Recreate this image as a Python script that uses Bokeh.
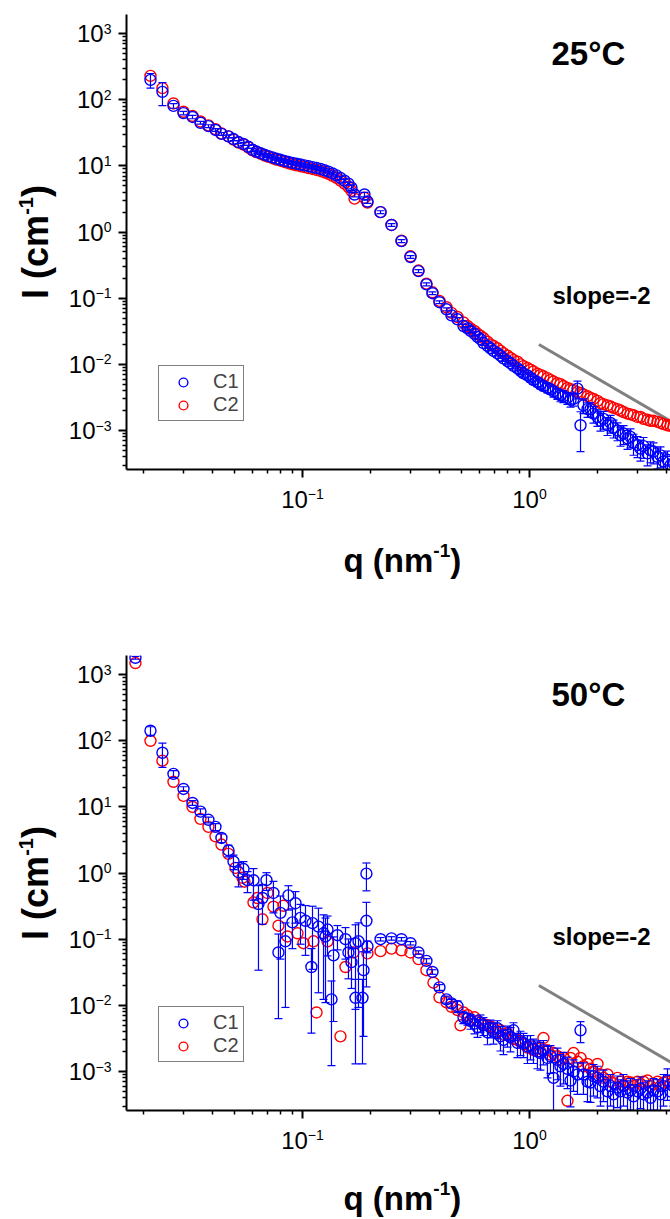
import math
from bokeh.plotting import figure
from bokeh.models import Range1d, FixedTicker, Label, Legend, LegendItem, CustomJSTickFormatter
from bokeh.layouts import column, row
from bokeh.core.properties import value
from bokeh.embed import file_html
from bokeh.resources import INLINE

# ---------------- data ----------------
# shared high-q grid (nm^-1)
q_high = [0.5332, 0.5497, 0.5725, 0.5902, 0.6084, 0.6271, 0.653, 0.6732, 0.694, 0.7227,
          0.745, 0.7679, 0.7999, 0.8246, 0.85, 0.8853, 0.9128, 0.941, 0.9799, 1.01,
          1.041, 1.084, 1.118, 1.152, 1.2, 1.237, 1.276, 1.328, 1.369, 1.412,
          1.47, 1.516, 1.563, 1.627, 1.678, 1.729, 1.801, 1.857, 1.914, 1.993,
          2.055, 2.118, 2.206, 2.275, 2.345, 2.442, 2.517, 2.595, 2.703, 2.786,
          2.872, 2.991, 3.083, 3.179, 3.31, 3.413, 3.518, 3.664, 3.777, 3.894,
          4.055, 4.18, 4.309, 4.487]

# 25 C panel
q25_low = [0.0214, 0.02416, 0.02702, 0.02991, 0.03277, 0.03553, 0.03853, 0.04137, 0.04396, 0.04721,
           0.04967, 0.05225, 0.05497, 0.05783,
           0.06022, 0.06271, 0.0653, 0.068, 0.07081, 0.07374, 0.07679, 0.07996, 0.08327, 0.08671,
           0.09029, 0.09403, 0.09799, 0.102, 0.1063, 0.1107, 0.1153, 0.12, 0.125, 0.1302,
           0.1356, 0.1412, 0.147, 0.1531, 0.1594,
           0.1644, 0.1695, 0.1875, 0.1933,
           0.2207, 0.2467, 0.273, 0.2991, 0.3243, 0.3516, 0.3737, 0.4013, 0.4309, 0.4533, 0.4818, 0.512]
c1_25 = [200, 132, 81, 63, 55, 45, 40, 35, 30.5, 28, 25.5, 23, 21.5, 19.5,
         17.5, 16.5, 15.6, 14.8, 14.1, 13.5, 12.9, 12.4, 11.9, 11.5, 11.1, 10.8, 10.5, 10.2, 9.9,
         9.6, 9.3, 9.0, 8.6, 8.2, 7.7, 7.2, 6.6, 6.0, 5.4,
         4.7, 3.7, 3.7, 2.9,
         2.0, 1.28, 0.73, 0.42, 0.257, 0.162, 0.119, 0.087, 0.068, 0.055, 0.048, 0.038,
         0.035, 0.032, 0.029, 0.026, 0.024, 0.021, 0.019, 0.0175, 0.016, 0.0147,
         0.0135, 0.0123, 0.0112, 0.0104, 0.0095, 0.0087, 0.008, 0.0073, 0.0068, 0.0063,
         0.0058, 0.0054, 0.005, 0.0047, 0.0044, 0.0042, 0.0039, 0.0036, 0.0034, 0.0033,
         0.0031, 0.0029, 0.003, 0.0043, 0.0012, 0.0024, 0.0021, 0.0021, 0.0018, 0.0016,
         0.0014, 0.0015, 0.0012, 0.0013, 0.0011, 0.001, 0.00085, 0.0009, 0.00076, 0.0008,
         0.00065, 0.0006, 0.00053, 0.00058, 0.00045, 0.0005, 0.00048, 0.0004, 0.00042, 0.00034,
         0.00036, 0.0003, 0.00032, 0.00028]
c2_25 = [230, 150, 88, 66, 57, 47, 41, 36, 31, 28, 25, 22.5, 21, 19,
         17.2, 16.2, 15.3, 14.4, 13.7, 13.1, 12.5, 12.0, 11.5, 11.0, 10.6, 10.2, 9.9, 9.6, 9.3,
         9.0, 8.7, 8.4, 8.0, 7.6, 7.1, 6.6, 6.0, 5.4, 4.8,
         4.2, 3.2, 3.3, 2.8,
         2.0, 1.28, 0.74, 0.43, 0.262, 0.166, 0.123, 0.091, 0.073, 0.06, 0.052, 0.043,
         0.038, 0.035, 0.032, 0.029, 0.027, 0.025, 0.022, 0.02, 0.019, 0.0175,
         0.016, 0.0148, 0.0135, 0.0125, 0.0117, 0.011, 0.01, 0.0094, 0.0088, 0.0083,
         0.0078, 0.0072, 0.0069, 0.0066, 0.0062, 0.0058, 0.0055, 0.0052, 0.005, 0.0047,
         0.0044, 0.0042, 0.0041, 0.0038, 0.0037, 0.0035, 0.0033, 0.0031, 0.003, 0.0028,
         0.0026, 0.0025, 0.0024, 0.0023, 0.0022, 0.0021, 0.002, 0.0019, 0.0018, 0.00175,
         0.0017, 0.0016, 0.0016, 0.0015, 0.00145, 0.0014, 0.0014, 0.00135, 0.0013, 0.00125,
         0.0012, 0.00118, 0.00115, 0.00112]
c1_25_err = [0.25, 0.38, 0.08, 0.06, 0.06, 0.05, 0.05, 0.05, 0.05, 0.05, 0.05, 0.05, 0.05, 0.05,
             0.05, 0.05, 0.05, 0.05, 0.05, 0.05, 0.05, 0.05, 0.05, 0.05, 0.05, 0.05, 0.05, 0.05, 0.05,
             0.05, 0.05, 0.05, 0.05, 0.05, 0.05, 0.05, 0.05, 0.05, 0.05,
             0.1, 0.08, 0.08, 0.06,
             0.05, 0.05, 0.05, 0.05, 0.05, 0.05, 0.05, 0.05, 0.05, 0.05, 0.06, 0.06,
             0.06, 0.06, 0.07, 0.07, 0.07, 0.08, 0.08, 0.08, 0.08, 0.09,
             0.09, 0.1, 0.1, 0.1, 0.1, 0.12, 0.12, 0.12, 0.12, 0.14,
             0.14, 0.15, 0.15, 0.15, 0.16, 0.16, 0.18, 0.18, 0.2, 0.2,
             0.2, 0.22, 0.22, 0.3, 0.6, 0.25, 0.25, 0.25, 0.28, 0.28,
             0.3, 0.3, 0.3, 0.3, 0.3, 0.3, 0.32, 0.32, 0.32, 0.32,
             0.35, 0.35, 0.35, 0.35, 0.35, 0.35, 0.35, 0.35, 0.35, 0.35,
             0.35, 0.35, 0.35, 0.35]

# 50 C panel
q50_c1_low = [0.01837, 0.0214, 0.02416, 0.02702, 0.02991, 0.03277, 0.03553, 0.03853, 0.04137, 0.04396,
              0.04721, 0.04967, 0.05225, 0.05497, 0.05725, 0.06083, 0.064, 0.06663, 0.0694, 0.0745,
              0.07836, 0.07996, 0.08412, 0.08671, 0.09029, 0.09314, 0.09799, 0.1031, 0.1095, 0.1107,
              0.1176, 0.1238, 0.1263, 0.1289, 0.1342, 0.137, 0.1426, 0.1547, 0.1594, 0.1644,
              0.1712, 0.1712, 0.1765, 0.1838, 0.1857, 0.1913, 0.1913, 0.1933, 0.2207, 0.2467,
              0.273, 0.2991, 0.3243, 0.3516, 0.3737, 0.4013, 0.4309, 0.4533, 0.4818, 0.512]
c1_50 = [1800, 142, 66, 31.6, 18.7, 11.5, 8.5, 6.4, 5.0, 3.4,
         2.2, 1.5, 1.03, 1.15, 0.78, 0.78, 0.34, 0.42, 0.78, 0.5,
         0.063, 0.25, 0.093, 0.46, 0.18, 0.35, 0.21, 0.19, 0.038, 0.175,
         0.155, 0.123, 0.11, 0.14, 0.0123, 0.057, 0.115, 0.1, 0.063, 0.045,
         0.087, 0.013, 0.093, 0.013, 0.034, 0.19, 0.98, 0.078, 0.1, 0.103,
         0.1, 0.087, 0.063, 0.047, 0.032, 0.0187, 0.0123, 0.0107, 0.0097, 0.0066,
         0.0063, 0.0058, 0.0053, 0.0047, 0.0055, 0.005, 0.0039, 0.0046, 0.004, 0.0045,
         0.0034, 0.003, 0.0036, 0.0033, 0.0042, 0.0027, 0.0029, 0.0027, 0.0024, 0.0025,
         0.0022, 0.002, 0.0019, 0.0021, 0.0016, 0.0017, 0.0008, 0.0015, 0.0012, 0.0013,
         0.0011, 0.00073, 0.001, 0.0009, 0.0042, 0.0009, 0.0007, 0.00068, 0.00085, 0.0008,
         0.0006, 0.0007, 0.0005, 0.0006, 0.00045, 0.00057, 0.0005, 0.0006, 0.00048, 0.00052,
         0.00042, 0.0005, 0.00055, 0.00045, 0.00048, 0.0004, 0.00052, 0.0005, 0.00045, 0.0006,
         0.00073, 0.0005, 0.0006, 0.00045]
c1_50_err = [0.05, 0.15, 0.4, 0.12, 0.08, 0.08, 0.1, 0.1, 0.12, 0.15,
             0.2, 0.25, 0.4, 0.3, 0.35, 0.5, 0.9, 0.6, 0.3, 0.5,
             0.9, 0.8, 0.9, 0.4, 0.6, 0.5, 0.6, 0.7, 0.9, 0.8,
             0.9, 0.9, 0.9, 0.6, 0.9, 0.9, 0.4, 0.5, 0.6, 0.6,
             0.9, 0.9, 0.9, 0.9, 0.9, 0.9, 0.45, 0.2, 0.06, 0.06,
             0.06, 0.06, 0.06, 0.08, 0.08, 0.1, 0.12, 0.15, 0.2, 0.2,
             0.2, 0.25, 0.3, 0.3, 0.3, 0.3, 0.35, 0.3, 0.35, 0.3,
             0.4, 0.4, 0.35, 0.4, 0.3, 0.4, 0.4, 0.4, 0.45, 0.4,
             0.4, 0.45, 0.45, 0.4, 0.5, 0.45, 0.7, 0.5, 0.5, 0.5,
             0.5, 0.6, 0.5, 0.5, 0.35, 0.5, 0.5, 0.5, 0.5, 0.5,
             0.5, 0.5, 0.5, 0.5, 0.5, 0.5, 0.5, 0.5, 0.5, 0.5,
             0.5, 0.5, 0.5, 0.5, 0.5, 0.5, 0.5, 0.5, 0.5, 0.5,
             0.5, 0.5, 0.5, 0.5]
q50_c2_low = [0.01837, 0.0214, 0.02416, 0.02702, 0.02991, 0.03277, 0.03553, 0.03853, 0.04137, 0.04396,
              0.04721, 0.05068, 0.05441, 0.05553, 0.06083, 0.06335, 0.06663, 0.07011, 0.0745, 0.07836,
              0.08243, 0.08584, 0.09507, 0.101, 0.1118, 0.1153, 0.1289, 0.147, 0.1547, 0.1678,
              0.1933, 0.2207, 0.2467, 0.273, 0.2991, 0.3243, 0.3516, 0.3775, 0.4013, 0.4309,
              0.4533, 0.4818, 0.4967, 0.512]
c2_50 = [1500, 100, 50, 24, 14.7, 10, 6.6, 5.0, 3.6, 2.7,
         1.95, 1.2, 0.85, 0.74, 0.36, 0.42, 0.2, 0.5, 0.31, 0.16,
         0.32, 0.11, 0.123, 0.087, 0.093, 0.0078, 0.093, 0.0034, 0.038, 0.063,
         0.061, 0.066, 0.072, 0.068, 0.063, 0.05, 0.034, 0.022, 0.0132, 0.0111,
         0.0095, 0.0085, 0.005, 0.0078,
         0.0071, 0.006, 0.0066, 0.0058, 0.0055, 0.0052, 0.005, 0.0048, 0.0044, 0.0039,
         0.0042, 0.0036, 0.0038, 0.0033, 0.0031, 0.003, 0.0028, 0.0026, 0.0023, 0.0024,
         0.0021, 0.0022, 0.002, 0.0032, 0.0021, 0.0018, 0.0019, 0.0017, 0.0015, 0.0016,
         0.00036, 0.0016, 0.0019, 0.0014, 0.0016, 0.0012, 0.0013, 0.0011, 0.001, 0.0013,
         0.0009, 0.0008, 0.0009, 0.0007, 0.00066, 0.0008, 0.0007, 0.00062, 0.0007, 0.00068,
         0.0006, 0.0007, 0.00065, 0.0007, 0.00073, 0.0006, 0.00065, 0.0007, 0.0006, 0.00068,
         0.0007, 0.00065, 0.0007, 0.0006]

# guide line of slope -2
slope_q = [1.1, 5.0]
slope_i = [0.02, 0.00097]

series_names = ["C1", "C2"]
panel_titles = ["25°C", "50°C"]
slope_text = "slope=-2"

x_major = [0.1, 1.0]
x_major_exp = ["\u22121", "0"]
y_major = [1e-3, 1e-2, 1e-1, 1.0, 10.0, 100.0, 1000.0]
y_major_exp = ["\u22123", "\u22122", "\u22121", "0", "1", "2", "3"]

# ---------------- styling / layout ----------------
FONT = "Liberation Sans"
BLUE, RED, GRAY = "#0000FF", "#FF0000", "#808080"
X_START, X_END = 0.01678, 4.18
Y_START, Y_END = 10 ** -3.59, 10 ** 3.29
FH = 455                 # frame height (px)
YS_W = 114               # width of the y-label strip
AX_B = 12                # border below / left of frame holding the ticks
PPD = FH / (math.log10(Y_END) - math.log10(Y_START))   # px per decade on y
MID = 0.3465             # middle of the em box above the baseline (em)
CW = {"0": 0.556, "1": 0.556, "2": 0.556, "3": 0.556, "\u2212": 0.584, "-": 0.333}
MARK = 11                # marker diameter (px)


def tw(s, size):
    return sum(CW.get(c, 0.556) for c in s) * size


def txt(p, xs, ys, texts, size, bold=False, align="left", angle=0.0, x_offset=0):
    p.text(x=xs, y=ys, text=texts, text_font=value(FONT),
           text_font_size=value(f"{size}px"),
           text_font_style="bold" if bold else "normal",
           text_align=align, text_baseline="middle", angle=angle,
           x_offset=x_offset, text_color="black")


def label(p, text, sx, base_up, size, bold=False):
    # base_up: baseline height above the frame bottom (px)
    p.add_layout(Label(x=sx, y=base_up + MID * size, x_units="screen", y_units="screen",
                       text=text, text_font=FONT, text_font_size=f"{size}px",
                       text_font_style="bold" if bold else "normal",
                       text_align="left", text_baseline="middle", text_color="black"))


def bare(p):
    p.grid.visible = False
    p.outline_line_color = None
    p.background_fill_color = "white"
    p.border_fill_color = "white"


def make_block(b_top, strip_h, title_base, qa, ia, ea, qb, ib, title):
    xr = Range1d(X_START, X_END)
    yr = Range1d(Y_START, Y_END)
    main_h = b_top + FH + AX_B

    p = figure(width=670 - YS_W, height=main_h, x_axis_type="log", y_axis_type="log",
               x_range=xr, y_range=yr, output_backend="svg", toolbar_location=None,
               title=None, min_border_left=126 - YS_W, min_border_right=0,
               min_border_top=b_top, min_border_bottom=AX_B)
    bare(p)
    x_minor = [m * d for d in (0.01, 0.1, 1.0) for m in range(2, 10)]
    y_minor = [m * 10.0 ** k for k in range(-4, 4) for m in range(2, 10)]
    p.xaxis.ticker = FixedTicker(ticks=[0.01, 0.1, 1.0, 10.0], minor_ticks=x_minor)
    p.yaxis.ticker = FixedTicker(ticks=y_major, minor_ticks=y_minor)
    for ax in (p.xaxis[0], p.yaxis[0]):
        ax.formatter = CustomJSTickFormatter(code="return '';")
        ax.major_label_text_font_size = "0px"
        ax.major_label_standoff = 0
        ax.axis_line_width = 2
        ax.axis_line_color = "black"
        ax.major_tick_line_width = 2
        ax.minor_tick_line_width = 1.5
        ax.major_tick_out = 8
        ax.major_tick_in = 0
        ax.minor_tick_out = 4
        ax.minor_tick_in = 0

    p.line(slope_q, slope_i, line_color=GRAY, line_width=3)
    r_red = p.scatter(qb, ib, marker="circle", size=MARK, fill_color=None,
                      line_color=RED, line_width=1.4)
    up = [v * (1 + e) for v, e in zip(ia, ea)]
    lo = [v * (1 - e) for v, e in zip(ia, ea)]
    p.segment(x0=qa, y0=lo, x1=qa, y1=up, line_color=BLUE, line_width=1.2)
    p.scatter(list(qa) + list(qa), up + lo, marker="dash", size=8,
              line_color=BLUE, line_width=1.2)
    r_blue = p.scatter(qa, ia, marker="circle", size=MARK, fill_color=None,
                       line_color=BLUE, line_width=1.4)

    legend = Legend(items=[LegendItem(label=series_names[0], renderers=[r_blue]),
                           LegendItem(label=series_names[1], renderers=[r_red])],
                    location=(32, 48))
    legend.label_text_font = FONT
    legend.label_text_font_size = "20px"
    legend.glyph_width = 40
    legend.glyph_height = 22
    legend.label_height = 22
    legend.label_width = 20
    legend.spacing = 0
    legend.padding = 4
    legend.margin = 0
    legend.label_standoff = 10
    legend.border_line_color = "black"
    legend.border_line_width = 1
    legend.background_fill_color = "white"
    legend.background_fill_alpha = 1.0
    p.add_layout(legend)

    label(p, title, 425, 405, 33, bold=True)
    label(p, slope_text, 426, 166, 24, bold=True)

    # ---- y strip: tick labels and y title (shares the y scale) ----
    ys = figure(width=YS_W, height=main_h, y_axis_type="log",
                x_range=Range1d(0, YS_W), y_range=yr, output_backend="svg",
                toolbar_location=None, title=None, x_axis_location=None,
                y_axis_location=None, min_border_left=0, min_border_right=0,
                min_border_top=b_top, min_border_bottom=AX_B)
    bare(ys)
    ex_r = 126 - 15
    txt(ys, [ex_r - tw(e, 14) for e in y_major_exp], y_major, ["10"] * len(y_major),
        24, align="right")
    lift = 10 ** (MID * 14 / PPD)
    txt(ys, [ex_r] * len(y_major), [v * lift for v in y_major], y_major_exp, 14, align="right")
    # rotated title, pieces placed along the frame centre
    yc = 10 ** ((math.log10(Y_START) + math.log10(Y_END)) / 2)
    w1, w2, w3 = 2.334 * 36, 0.889 * 20, 0.333 * 36
    s0 = -(w1 + w2 + w3) / 2
    a = math.pi / 2
    txt(ys, [47 - MID * 36], [yc * 10 ** (s0 / PPD)], ["I (cm"], 36, bold=True, angle=a)
    txt(ys, [32 - MID * 20], [yc * 10 ** ((s0 + w1) / PPD)], ["-1"], 20, bold=True, angle=a)
    txt(ys, [47 - MID * 36], [yc * 10 ** ((s0 + w1 + w2) / PPD)], [")"], 36, bold=True, angle=a)

    # ---- x strip: tick labels and x title (shares the x scale) ----
    xs = figure(width=670, height=strip_h, x_axis_type="log", x_range=xr,
                y_range=Range1d(0, strip_h), output_backend="svg",
                toolbar_location=None, title=None, x_axis_location=None,
                y_axis_location=None, min_border_left=126, min_border_right=0,
                min_border_top=0, min_border_bottom=0)
    bare(xs)
    w10 = tw("10", 24)
    offs = [(w10 - tw(e, 14)) / 2 for e in x_major_exp]

    def yb(base_below_axis, size):
        # y (in strip px, up) of the em-middle for a baseline given below the axis line
        return strip_h - (base_below_axis - AX_B - MID * size)

    txt(xs, x_major, [yb(38, 24)] * 2, ["10", "10"], 24, align="right", x_offset=offs)
    txt(xs, x_major, [yb(29, 14)] * 2, x_major_exp, 14, align="left", x_offset=offs)
    txt(xs, [X_START], [yb(title_base, 33)], ["q (nm"], 33, bold=True, x_offset=217)
    txt(xs, [X_START], [yb(title_base - 14, 19)], ["-1"], 19, bold=True, x_offset=306.8)
    txt(xs, [X_START], [yb(title_base, 33)], [")"], 33, bold=True, x_offset=323.7)

    return column(row(ys, p, spacing=0), xs, spacing=0)


b1 = make_block(14, 650 - (14 + FH + AX_B), 102, q25_low + q_high, c1_25, c1_25_err,
                q25_low + q_high, c2_25, panel_titles[0])
b2 = make_block(5, 569 - (5 + FH + AX_B), 99, q50_c1_low + q_high, c1_50, c1_50_err,
                q50_c2_low + q_high, c2_50, panel_titles[1])

layout = column(b1, b2, spacing=0)
open("out.html", "w").write(file_html(layout, INLINE))
